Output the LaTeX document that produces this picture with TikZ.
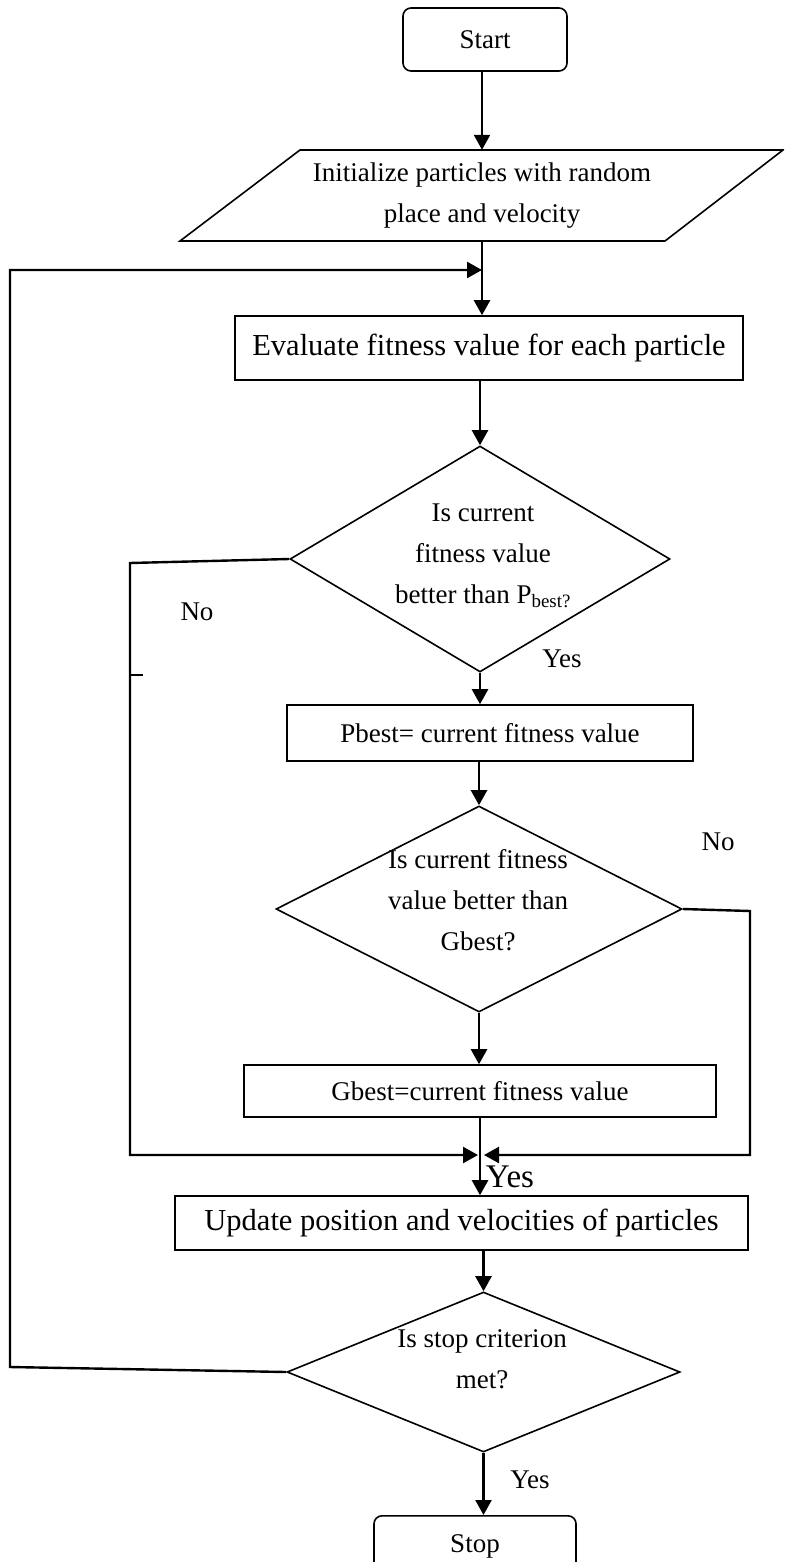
\documentclass[tikz,border=0pt]{standalone}
\usepackage{fontspec}
\setmainfont{Liberation Serif}
\usetikzlibrary{shapes.geometric,arrows.meta}
\begin{document}
\begin{tikzpicture}[x=1pt,y=-1pt,
  every node/.style={font=\fontsize{27}{41}\selectfont},
  large/.style={font=\fontsize{30.5}{41}\selectfont},
  box/.style={draw, line width=1.6pt, inner sep=0pt},
  roundbox/.style={box, rounded corners=8pt},
  decision/.style={draw, diamond, line width=1.6pt, inner sep=0pt},
  textonly/.style={align=center, inner sep=0pt},
  arr/.style={line width=2.4pt, -{Triangle[length=15pt,width=16pt]}},
  link/.style={line width=2pt},
]
\useasboundingbox (0,0) rectangle (784,1562);
\clip (0,0) rectangle (784,1562);

% boxes and decisions
\node[roundbox, minimum width=164pt, minimum height=63pt] (start) at (485,39.5) {Start};
\draw[line width=1.6pt] (300,150) -- (783,150) -- (665,241) -- (180,241) -- cycle;
\node[textonly, minimum height=91pt] (init) at (482,195.5) {Initialize particles with random\\place and velocity};
\node[box, large, minimum width=508pt, minimum height=64pt] (eval) at (489,348) {Evaluate fitness value for each particle};
\node[decision, minimum width=380pt, minimum height=226pt] (d1) at (480,559) {};
\node[textonly] (d1t) at (483,556) {Is current\\fitness value\\better than P\textsubscript{best?}};
\node[box, minimum width=406pt, minimum height=56pt] (pbest) at (490,733) {Pbest= current fitness value};
\node[decision, minimum width=406pt, minimum height=206pt] (d2) at (479,909) {};
\node[textonly] (d2t) at (478,900) {Is current fitness\\value better than\\Gbest?};
\node[box, minimum width=472pt, minimum height=52pt] (gbest) at (480,1091) {Gbest=current fitness value};
\node[box, large, minimum width=573pt, minimum height=54pt] (update) at (461.5,1223) {Update position and velocities of particles};
\node[decision, minimum width=393pt, minimum height=160pt] (d3) at (483.5,1372) {};
\node[textonly] (d3t) at (482,1359) {Is stop criterion\\met?};
\node[roundbox, minimum width=202pt, minimum height=62pt, anchor=north] (stop) at (475,1515) {Stop};

% branch labels
\node (no1) at (197,612) {No};
\node (yes1) at (562,659) {Yes};
\node (no2) at (718,842) {No};
\node[font=\fontsize{33}{40}\selectfont] (yes2) at (510,1177) {Yes};
\node (yes3) at (530,1480) {Yes};

% junction points
\coordinate (loop) at (482,270);
\coordinate (merge) at (481,1155);

% main flow
\draw[arr] (start.south -| init.north) -- (init.north);
\draw[arr] (init.south) -- (init.south |- eval.north);
\draw[arr] (eval.south -| d1.north) -- (d1.north);
\draw[arr] (d1.south) -- (d1.south |- pbest.north);
\draw[arr] (pbest.south -| d2.north) -- (d2.north);
\draw[arr] (d2.south) -- (d2.south |- gbest.north);
\draw[arr] (gbest.south) -- (gbest.south |- update.north);
\draw[arr] (update.south -| d3.north) -- (d3.north);
\draw[arr] (d3.south) -- (d3.south |- stop.north);

% "No" branches joining above the update step
\draw[arr, shorten >=3pt] (d1.west) -- (130,563) |- (merge);
\draw[link] (130,675) -- (143,675);
\draw[arr, shorten >=3pt] (d2.east) -- (750,911) |- (merge);

% repeat loop back to the evaluation step
\draw[arr] (d3.west) -- (10,1367) |- (loop);
\end{tikzpicture}
\end{document}
